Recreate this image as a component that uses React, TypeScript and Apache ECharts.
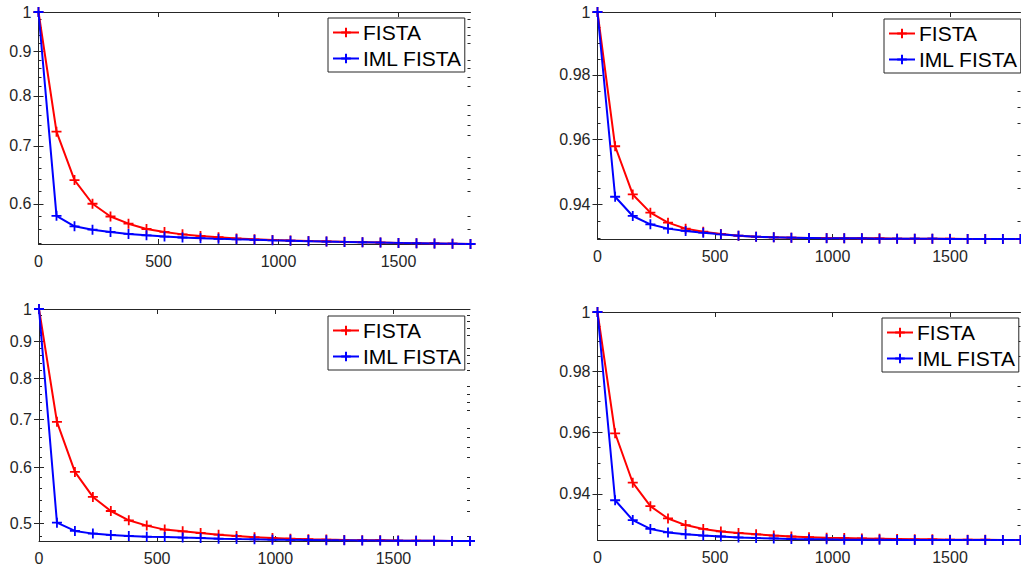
import React, { useEffect, useRef } from "react";
import * as echarts from "echarts";

// ---- data ----
const SERIES_NAMES = ["FISTA", "IML FISTA"];
const ITER_75 = [0, 75, 150, 225, 300, 375, 450, 525, 600, 675, 750, 825, 900, 975, 1050, 1125, 1200, 1275, 1350, 1425, 1500, 1575, 1650, 1725, 1800];
const ITER_76 = [0, 76, 152, 228, 304, 380, 456, 532, 608, 684, 760, 836, 912, 988, 1064, 1140, 1216, 1292, 1368, 1444, 1520, 1596, 1672, 1748, 1824];

const TL_FISTA = [1, 0.727, 0.639, 0.6, 0.58, 0.569, 0.561, 0.5566, 0.553, 0.5507, 0.5488, 0.547, 0.5458, 0.5448, 0.544, 0.5433, 0.5427, 0.5421, 0.5416, 0.5411, 0.5406, 0.5402, 0.5398, 0.5394, 0.539];
const TL_IML = [1, 0.581, 0.565, 0.56, 0.5566, 0.5537, 0.5516, 0.5497, 0.5484, 0.5474, 0.5465, 0.5457, 0.545, 0.5443, 0.5437, 0.5431, 0.5425, 0.542, 0.5415, 0.541, 0.5406, 0.5402, 0.5398, 0.5394, 0.539];

const TR_FISTA = [1, 0.9578, 0.9431, 0.9376, 0.9346, 0.9328, 0.9319, 0.9312, 0.9307, 0.9304, 0.9302, 0.9301, 0.93, 0.93, 0.9299, 0.9299, 0.9299, 0.9298, 0.9298, 0.9298, 0.9298, 0.9297, 0.9297, 0.9297, 0.9297];
const TR_IML = [1, 0.9424, 0.9366, 0.9341, 0.9328, 0.9321, 0.9316, 0.9311, 0.9307, 0.9304, 0.9302, 0.9301, 0.93, 0.9299, 0.9299, 0.9299, 0.9298, 0.9298, 0.9298, 0.9298, 0.9297, 0.9297, 0.9297, 0.9297, 0.9297];

const BL_FISTA = [1, 0.6946, 0.5908, 0.545, 0.5208, 0.5054, 0.4968, 0.4904, 0.4877, 0.4851, 0.4825, 0.4804, 0.4785, 0.4773, 0.4763, 0.4755, 0.4749, 0.4744, 0.474, 0.4737, 0.4734, 0.4732, 0.473, 0.4728, 0.4727];
const BL_IML = [1, 0.5016, 0.4883, 0.4841, 0.482, 0.4804, 0.4794, 0.4789, 0.4779, 0.4773, 0.4763, 0.4757, 0.4752, 0.4748, 0.4745, 0.4742, 0.4739, 0.4737, 0.4735, 0.4733, 0.4731, 0.473, 0.4729, 0.4728, 0.4727];

const BR_FISTA = [1, 0.9596, 0.9436, 0.9361, 0.9322, 0.9301, 0.9289, 0.9281, 0.9276, 0.9272, 0.9268, 0.9265, 0.9263, 0.9261, 0.926, 0.9259, 0.9258, 0.9257, 0.9256, 0.9256, 0.9255, 0.9255, 0.9255, 0.9254, 0.9254];
const BR_IML = [1, 0.938, 0.9317, 0.9289, 0.9278, 0.9272, 0.9268, 0.9265, 0.9262, 0.926, 0.9259, 0.9257, 0.9256, 0.9256, 0.9255, 0.9255, 0.9255, 0.9254, 0.9254, 0.9254, 0.9254, 0.9254, 0.9254, 0.9254, 0.9254];

const X_TICKS = [0, 500, 1000, 1500];
const Y_MAJOR_WIDE = [0.5, 0.6, 0.7, 0.8, 0.9, 1];
const Y_MINOR_WIDE = [0.48, 0.52, 0.54, 0.56, 0.58, 0.62, 0.64, 0.66, 0.68, 0.72, 0.74, 0.76, 0.78, 0.82, 0.84, 0.86, 0.88, 0.92, 0.94, 0.96, 0.98];
const Y_MAJOR_NARROW = [0.94, 0.96, 0.98, 1];
const Y_MINOR_NARROW = [0.93, 0.935, 0.945, 0.95, 0.955, 0.965, 0.97, 0.975, 0.985, 0.99, 0.995];

// ---- panels ----
const PANELS = [
  { x: ITER_75, a: TL_FISTA, b: TL_IML, xMax: 1800, yMin: 0.539, major: Y_MAJOR_WIDE, minor: Y_MINOR_WIDE,
    grid: { left: 38.5, top: 12, width: 432, height: 232 }, legend: { left: 328, top: 18 } },
  { x: ITER_75, a: TR_FISTA, b: TR_IML, xMax: 1800, yMin: 0.9297, major: Y_MAJOR_NARROW, minor: Y_MINOR_NARROW,
    grid: { left: 597.5, top: 12, width: 423, height: 227 }, legend: { left: 884, top: 19 } },
  { x: ITER_76, a: BL_FISTA, b: BL_IML, xMax: 1824, yMin: 0.4727, major: Y_MAJOR_WIDE, minor: Y_MINOR_WIDE,
    grid: { left: 39, top: 309, width: 431, height: 232 }, legend: { left: 328, top: 316 } },
  { x: ITER_75, a: BR_FISTA, b: BR_IML, xMax: 1800, yMin: 0.9254, major: Y_MAJOR_NARROW, minor: Y_MINOR_NARROW,
    grid: { left: 597.5, top: 312, width: 423, height: 228 }, legend: { left: 882, top: 318 } },
];

const AXIS_COLOR = "#262626";
const FONT = "Liberation Sans";
const PLUS = "path://M5,0L5,10M0,5L10,5";

function buildOption() {
  const grid: any[] = [];
  const xAxis: any[] = [];
  const yAxis: any[] = [];
  const series: any[] = [];
  const legend: any[] = [];
  PANELS.forEach((p, i) => {
    grid.push({ ...p.grid });
    const xBase = {
      type: "value", gridIndex: i, min: 0, max: p.xMax,
      splitLine: { show: false },
      axisLine: { show: true, lineStyle: { color: AXIS_COLOR, width: 1 } },
      axisTick: { show: true, inside: true, length: 5, customValues: X_TICKS, lineStyle: { color: AXIS_COLOR } },
    };
    xAxis.push({
      ...xBase, position: "bottom",
      axisLabel: {
        show: true, customValues: X_TICKS, fontSize: 16, color: AXIS_COLOR, fontFamily: FONT, margin: 9,
        formatter: (v: number) => String(Math.round(Number(v))),
      },
    });
    xAxis.push({ ...xBase, position: "top", axisLabel: { show: false } });
    const yBase = {
      type: "log", logBase: 10, gridIndex: i, min: p.yMin, max: 1,
      splitLine: { show: false },
    };
    const yi = yAxis.length;
    yAxis.push({
      ...yBase, position: "left",
      axisLine: { show: true, lineStyle: { color: AXIS_COLOR, width: 1 } },
      axisTick: { show: true, inside: true, length: 5, customValues: p.major, lineStyle: { color: AXIS_COLOR } },
      axisLabel: {
        show: true, customValues: p.major, fontSize: 16, color: AXIS_COLOR, fontFamily: FONT, margin: 7,
        formatter: (v: number) => String(+Number(v).toFixed(4)),
      },
    });
    yAxis.push({
      ...yBase, position: "right",
      axisLine: { show: true, lineStyle: { color: AXIS_COLOR, width: 1 } },
      axisTick: { show: true, inside: true, length: 5, customValues: p.major, lineStyle: { color: AXIS_COLOR } },
      axisLabel: { show: false },
    });
    yAxis.push({
      ...yBase, position: "left",
      axisLine: { show: false },
      axisTick: { show: true, inside: true, length: 3, customValues: p.minor, lineStyle: { color: AXIS_COLOR } },
      axisLabel: { show: false },
    });
    yAxis.push({
      ...yBase, position: "right",
      axisLine: { show: false },
      axisTick: { show: true, inside: true, length: 3, customValues: p.minor, lineStyle: { color: AXIS_COLOR } },
      axisLabel: { show: false },
    });
    const mk = (name: string, ys: number[], color: string) => ({
      type: "line", name, xAxisIndex: i * 2, yAxisIndex: yi,
      data: p.x.map((x, k) => [x, ys[k]]),
      symbol: PLUS, symbolSize: 10, showSymbol: true, clip: false,
      lineStyle: { color, width: 2 },
      itemStyle: { color, borderColor: color, borderWidth: 1.8 },
      emphasis: { disabled: true },
    });
    series.push(mk(SERIES_NAMES[0], p.a, "#ff0000"));
    series.push(mk(SERIES_NAMES[1], p.b, "#0000ff"));
    legend.push({
      data: SERIES_NAMES, orient: "vertical", left: p.legend.left, top: p.legend.top,
      backgroundColor: "#fff", borderColor: AXIS_COLOR, borderWidth: 1,
      padding: [4, 3, 3, 4], itemGap: 5, itemWidth: 26, itemHeight: 12,
      textStyle: { fontSize: 21, color: "#000", fontFamily: FONT, padding: [0, 0, 0, -1] },
      selectedMode: false,
    });
  });
  return { animation: false, backgroundColor: "#fff", grid, xAxis, yAxis, series, legend };
}

export default function App() {
  const ref = useRef<HTMLDivElement>(null);
  useEffect(() => {
    if (!ref.current) return;
    const chart = echarts.init(ref.current, null, { renderer: "svg" });
    chart.setOption(buildOption() as any);
    return () => chart.dispose();
  }, []);
  return <div ref={ref} style={{ position: "absolute", left: 0, top: 0, width: 1021, height: 570 }} />;
}
